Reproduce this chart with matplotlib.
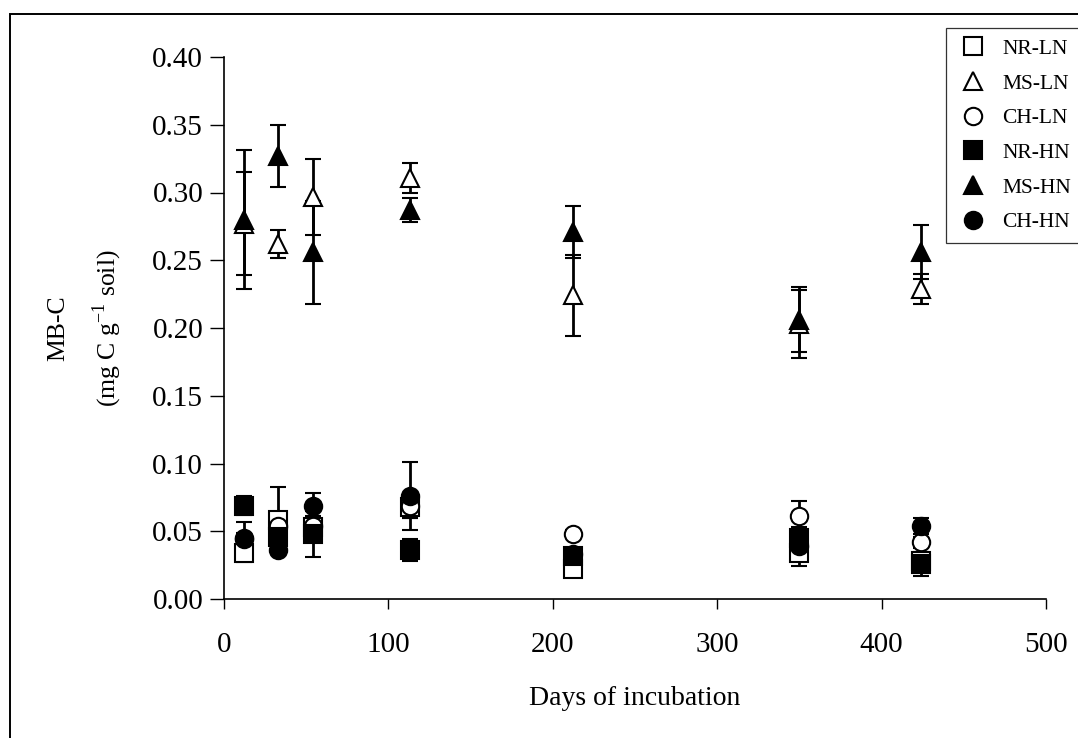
import matplotlib.pyplot as plt
from matplotlib.patches import Rectangle

plt.rcParams['font.family'] = ['Liberation Serif', 'DejaVu Serif']

# Sampling days
days = [12, 33, 54, 113, 212, 350, 424]

# Means and standard errors (mg C g-1 soil)
nr_ln = [0.034, 0.058, 0.053, 0.068, 0.022, 0.034, 0.028]
nr_ln_err = [0.007, 0.025, 0.006, 0.008, 0.003, 0.010, 0.004]
ms_ln = [0.277, 0.262, 0.297, 0.311, 0.224, 0.203, 0.229]
ms_ln_err = [0.038, 0.010, 0.028, 0.011, 0.030, 0.025, 0.011]
ch_ln = [0.044, 0.054, 0.054, 0.069, 0.048, 0.061, 0.042]
ch_ln_err = [0.005, 0.005, 0.007, 0.009, 0.003, 0.011, 0.004]
nr_hn = [0.069, 0.046, 0.048, 0.036, 0.032, 0.045, 0.026]
nr_hn_err = [0.007, 0.008, 0.017, 0.008, 0.004, 0.008, 0.009]
ms_hn = [0.280, 0.327, 0.256, 0.287, 0.271, 0.206, 0.256]
ms_hn_err = [0.051, 0.023, 0.038, 0.009, 0.019, 0.024, 0.020]
ch_hn = [0.045, 0.036, 0.069, 0.076, 0.033, 0.039, 0.054]
ch_hn_err = [0.012, 0.003, 0.009, 0.025, 0.004, 0.004, 0.006]

series = [
    ("NR-LN", nr_ln, nr_ln_err, 's', 'white'),
    ("MS-LN", ms_ln, ms_ln_err, '^', 'white'),
    ("CH-LN", ch_ln, ch_ln_err, 'o', 'white'),
    ("NR-HN", nr_hn, nr_hn_err, 's', 'black'),
    ("MS-HN", ms_hn, ms_hn_err, '^', 'black'),
    ("CH-HN", ch_hn, ch_hn_err, 'o', 'black'),
]

W, H = 1078, 738
fig = plt.figure(figsize=(W / 100, H / 100), dpi=100)
ax = fig.add_axes([224 / W, (H - 599) / H, (1046 - 224) / W, (599 - 57) / H])

handles = []
for label, vals, errs, marker, face in series:
    ax.errorbar(days, vals, yerr=errs, fmt='none', ecolor='black',
                elinewidth=2.0, capsize=6, capthick=1.5, zorder=2)
    h, = ax.plot(days, vals, linestyle='none', marker=marker, markersize=12.5,
                 markerfacecolor=face, markeredgecolor='black',
                 markeredgewidth=1.5, label=label, zorder=3)
    handles.append(h)

ax.set_xlim(0, 500)
ax.set_ylim(0, 0.40)
ax.set_xticks([0, 100, 200, 300, 400, 500])
ax.set_yticks([0.0, 0.05, 0.10, 0.15, 0.20, 0.25, 0.30, 0.35, 0.40])
ax.set_yticklabels([f"{v:.2f}" for v in ax.get_yticks()])
ax.tick_params(direction='out', width=1, labelsize=21)
ax.tick_params(axis='y', length=10, pad=5)
ax.tick_params(axis='x', length=7, pad=17)
for side in ('top', 'right'):
    ax.spines[side].set_visible(False)
for side in ('left', 'bottom'):
    ax.spines[side].set_linewidth(1.2)

ax.set_xlabel("Days of incubation", fontsize=20, labelpad=20)
ax.set_ylabel("MB-C\n(mg C g$^{\\mathregular{-1}}$ soil)", fontsize=18.5,
              labelpad=20, linespacing=1.85)

leg = fig.legend(handles=handles, loc='upper left',
                 bbox_to_anchor=(946 / W, 1 - 28 / H), borderaxespad=0,
                 fontsize=15.5, frameon=True, fancybox=False, edgecolor='black',
                 handletextpad=0.6, labelspacing=0.68, borderpad=0.5,
                 handlelength=1.5, markerscale=1.0)
leg.get_frame().set_linewidth(0.9)

# Frame around the picture (right and bottom edges fall outside the image)
fig.patches.append(Rectangle((10 / W, -0.1), 1.2, 1.1 - 14 / H, transform=fig.transFigure,
                             fill=False, edgecolor='black', linewidth=1.4))

fig.savefig("out.png", dpi=100)
